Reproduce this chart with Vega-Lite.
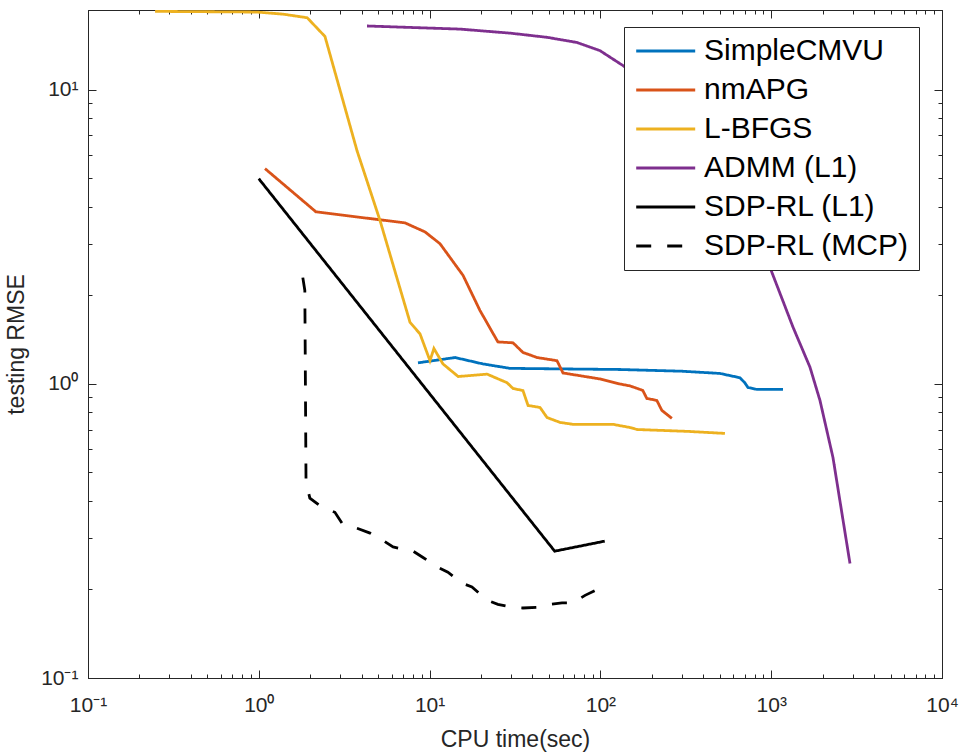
{
  "$schema": "https://vega.github.io/schema/vega-lite/v6.json",
  "width": 854,
  "height": 668,
  "autosize": {"type": "none"},
  "padding": {"left": 88, "top": 10, "right": 18, "bottom": 74},
  "background": "white",
  "config": {
    "view": {"stroke": "#262626", "strokeWidth": 1},
    "font": "Liberation Sans",
    "axis": {"grid": false, "domainColor": "#262626", "tickColor": "#262626", "labelColor": "#262626", "titleColor": "#262626", "labelFont": "Liberation Sans", "titleFont": "Liberation Sans", "titleFontWeight": "normal"}
  },
  "data": {"values": [
    {"s": "SimpleCMVU", "t": 8.55, "r": 1.18},
    {"s": "SimpleCMVU", "t": 14.1, "r": 1.23},
    {"s": "SimpleCMVU", "t": 20.5, "r": 1.17},
    {"s": "SimpleCMVU", "t": 29.6, "r": 1.13},
    {"s": "SimpleCMVU", "t": 60, "r": 1.125},
    {"s": "SimpleCMVU", "t": 130, "r": 1.12},
    {"s": "SimpleCMVU", "t": 300, "r": 1.105},
    {"s": "SimpleCMVU", "t": 501, "r": 1.086},
    {"s": "SimpleCMVU", "t": 656, "r": 1.05},
    {"s": "SimpleCMVU", "t": 700, "r": 1.01},
    {"s": "SimpleCMVU", "t": 731, "r": 0.973},
    {"s": "SimpleCMVU", "t": 826, "r": 0.958},
    {"s": "SimpleCMVU", "t": 1172, "r": 0.958},
    {"s": "nmAPG", "t": 1.087, "r": 5.4},
    {"s": "nmAPG", "t": 2.16, "r": 3.85},
    {"s": "nmAPG", "t": 7.18, "r": 3.53},
    {"s": "nmAPG", "t": 9.4, "r": 3.29},
    {"s": "nmAPG", "t": 11.5, "r": 3.0},
    {"s": "nmAPG", "t": 15.7, "r": 2.34},
    {"s": "nmAPG", "t": 19.7, "r": 1.78},
    {"s": "nmAPG", "t": 25.1, "r": 1.39},
    {"s": "nmAPG", "t": 30.8, "r": 1.38},
    {"s": "nmAPG", "t": 35.2, "r": 1.28},
    {"s": "nmAPG", "t": 42.6, "r": 1.23},
    {"s": "nmAPG", "t": 55.7, "r": 1.2},
    {"s": "nmAPG", "t": 60.4, "r": 1.09},
    {"s": "nmAPG", "t": 99.5, "r": 1.04},
    {"s": "nmAPG", "t": 130, "r": 1.0},
    {"s": "nmAPG", "t": 149, "r": 0.985},
    {"s": "nmAPG", "t": 177, "r": 0.951},
    {"s": "nmAPG", "t": 187, "r": 0.893},
    {"s": "nmAPG", "t": 214, "r": 0.879},
    {"s": "nmAPG", "t": 229, "r": 0.813},
    {"s": "nmAPG", "t": 262, "r": 0.764},
    {"s": "L-BFGS", "t": 0.247, "r": 18.5},
    {"s": "L-BFGS", "t": 0.975, "r": 18.4},
    {"s": "L-BFGS", "t": 1.39, "r": 18.1},
    {"s": "L-BFGS", "t": 1.92, "r": 17.6},
    {"s": "L-BFGS", "t": 2.44, "r": 15.2},
    {"s": "L-BFGS", "t": 3.76, "r": 6.21},
    {"s": "L-BFGS", "t": 5.13, "r": 3.59},
    {"s": "L-BFGS", "t": 7.68, "r": 1.62},
    {"s": "L-BFGS", "t": 8.79, "r": 1.48},
    {"s": "L-BFGS", "t": 10.05, "r": 1.2},
    {"s": "L-BFGS", "t": 10.6, "r": 1.32},
    {"s": "L-BFGS", "t": 11.97, "r": 1.17},
    {"s": "L-BFGS", "t": 14.7, "r": 1.06},
    {"s": "L-BFGS", "t": 21.7, "r": 1.08},
    {"s": "L-BFGS", "t": 28.4, "r": 1.01},
    {"s": "L-BFGS", "t": 30.8, "r": 0.965},
    {"s": "L-BFGS", "t": 35.2, "r": 0.95},
    {"s": "L-BFGS", "t": 37.7, "r": 0.845},
    {"s": "L-BFGS", "t": 44.3, "r": 0.832},
    {"s": "L-BFGS", "t": 48.7, "r": 0.769},
    {"s": "L-BFGS", "t": 58.0, "r": 0.74},
    {"s": "L-BFGS", "t": 69.1, "r": 0.729},
    {"s": "L-BFGS", "t": 118.5, "r": 0.729},
    {"s": "L-BFGS", "t": 149, "r": 0.711},
    {"s": "L-BFGS", "t": 164, "r": 0.7},
    {"s": "L-BFGS", "t": 321, "r": 0.69},
    {"s": "L-BFGS", "t": 536, "r": 0.679},
    {"s": "ADMM (L1)", "t": 4.3, "r": 16.5},
    {"s": "ADMM (L1)", "t": 15.1, "r": 16.1},
    {"s": "ADMM (L1)", "t": 29.6, "r": 15.6},
    {"s": "ADMM (L1)", "t": 48.7, "r": 15.1},
    {"s": "ADMM (L1)", "t": 72.9, "r": 14.5},
    {"s": "ADMM (L1)", "t": 99.5, "r": 13.6},
    {"s": "ADMM (L1)", "t": 135.6, "r": 12.1},
    {"s": "ADMM (L1)", "t": 195, "r": 10.3},
    {"s": "ADMM (L1)", "t": 383, "r": 6.46},
    {"s": "ADMM (L1)", "t": 656, "r": 3.73},
    {"s": "ADMM (L1)", "t": 984, "r": 2.49},
    {"s": "ADMM (L1)", "t": 1342, "r": 1.56},
    {"s": "ADMM (L1)", "t": 1687, "r": 1.14},
    {"s": "ADMM (L1)", "t": 1930, "r": 0.879},
    {"s": "ADMM (L1)", "t": 2300, "r": 0.562},
    {"s": "ADMM (L1)", "t": 2893, "r": 0.245},
    {"s": "SDP-RL (L1)", "t": 1.0, "r": 4.99},
    {"s": "SDP-RL (L1)", "t": 54, "r": 0.27},
    {"s": "SDP-RL (L1)", "t": 106, "r": 0.292},
    {"s": "SDP-RL (MCP)", "t": 1.81, "r": 2.3},
    {"s": "SDP-RL (MCP)", "t": 1.86, "r": 2.08},
    {"s": "SDP-RL (MCP)", "t": 1.89, "r": 0.464},
    {"s": "SDP-RL (MCP)", "t": 1.99, "r": 0.409},
    {"s": "SDP-RL (MCP)", "t": 2.34, "r": 0.381},
    {"s": "SDP-RL (MCP)", "t": 2.79, "r": 0.366},
    {"s": "SDP-RL (MCP)", "t": 3.07, "r": 0.336},
    {"s": "SDP-RL (MCP)", "t": 3.76, "r": 0.323},
    {"s": "SDP-RL (MCP)", "t": 4.48, "r": 0.311},
    {"s": "SDP-RL (MCP)", "t": 5.33, "r": 0.294},
    {"s": "SDP-RL (MCP)", "t": 6.11, "r": 0.279},
    {"s": "SDP-RL (MCP)", "t": 8.0, "r": 0.27},
    {"s": "SDP-RL (MCP)", "t": 9.15, "r": 0.257},
    {"s": "SDP-RL (MCP)", "t": 11.2, "r": 0.238},
    {"s": "SDP-RL (MCP)", "t": 12.8, "r": 0.229},
    {"s": "SDP-RL (MCP)", "t": 15.5, "r": 0.21},
    {"s": "SDP-RL (MCP)", "t": 17.7, "r": 0.204},
    {"s": "SDP-RL (MCP)", "t": 21.7, "r": 0.184},
    {"s": "SDP-RL (MCP)", "t": 25.1, "r": 0.178},
    {"s": "SDP-RL (MCP)", "t": 30.4, "r": 0.174},
    {"s": "SDP-RL (MCP)", "t": 35.2, "r": 0.173},
    {"s": "SDP-RL (MCP)", "t": 42.5, "r": 0.174},
    {"s": "SDP-RL (MCP)", "t": 47.4, "r": 0.177},
    {"s": "SDP-RL (MCP)", "t": 59.6, "r": 0.18},
    {"s": "SDP-RL (MCP)", "t": 69.1, "r": 0.18},
    {"s": "SDP-RL (MCP)", "t": 81.3, "r": 0.191},
    {"s": "SDP-RL (MCP)", "t": 95.5, "r": 0.2}
  ]},
  "resolve": {"axis": {"x": "independent", "y": "independent"}},
  "layer": [
    {
      "mark": {"type": "line", "strokeWidth": 2.8, "clip": true},
      "encoding": {
        "x": {"field": "t", "type": "quantitative",
          "scale": {"type": "log", "domain": [0.1, 10000], "nice": false},
          "axis": {"orient": "bottom", "title": "CPU time(sec)", "titleFontSize": 23, "titlePadding": 9,
            "values": [0.1,0.2,0.3,0.4,0.5,0.6,0.7,0.8,0.9,1,2,3,4,5,6,7,8,9,10,20,30,40,50,60,70,80,90,100,200,300,400,500,600,700,800,900,1000,2000,3000,4000,5000,6000,7000,8000,9000,10000],
            "labelExpr": "datum.value == 0.1 ? '10⁻¹' : datum.value == 1 ? '10⁰' : datum.value == 10 ? '10¹' : datum.value == 100 ? '10²' : datum.value == 1000 ? '10³' : datum.value == 10000 ? '10⁴' : ''",
            "labelFontSize": 21, "labelPadding": 24, "labelOverlap": false, "labelFlush": false, "labelBound": false,
            "tickSize": {"condition": {"test": "abs(log(datum.value)/LN10 - round(log(datum.value)/LN10)) < 1e-6", "value": -8}, "value": -4}
          }
        },
        "y": {"field": "r", "type": "quantitative",
          "scale": {"type": "log", "domain": [0.1, 18.7], "nice": false},
          "axis": {"orient": "left", "title": "testing RMSE", "titleFontSize": 23, "titlePadding": 12,
            "values": [0.1,0.2,0.3,0.4,0.5,0.6,0.7,0.8,0.9,1,2,3,4,5,6,7,8,9,10],
            "labelExpr": "datum.value == 0.1 ? '10⁻¹' : datum.value == 1 ? '10⁰' : datum.value == 10 ? '10¹' : ''",
            "labelFontSize": 21, "labelPadding": 18, "labelOverlap": false, "labelBound": false,
            "tickSize": {"condition": {"test": "abs(log(datum.value)/LN10 - round(log(datum.value)/LN10)) < 1e-6", "value": -8}, "value": -4}
          }
        },
        "color": {"field": "s", "type": "nominal",
          "scale": {"domain": ["SimpleCMVU", "nmAPG", "L-BFGS", "ADMM (L1)", "SDP-RL (L1)", "SDP-RL (MCP)"],
                    "range": ["#0072BD", "#D95319", "#EDB120", "#7E2F8E", "#000000", "#000000"]},
          "legend": {"title": null, "orient": "none", "legendX": 536, "legendY": 17,
            "labelFontSize": 30, "labelFont": "Liberation Sans", "labelColor": "#000000", "labelLimit": 400,
            "symbolType": "M-1,0H4", "symbolSize": 557, "symbolStrokeWidth": 3, "labelOffset": 41,
            "fillColor": "white", "strokeColor": "#262626", "padding": 9, "rowPadding": 9, "cornerRadius": 0}
        },
        "strokeDash": {"field": "s", "type": "nominal",
          "scale": {"domain": ["SimpleCMVU", "nmAPG", "L-BFGS", "ADMM (L1)", "SDP-RL (L1)", "SDP-RL (MCP)"],
                    "range": [[1, 0], [1, 0], [1, 0], [1, 0], [1, 0], [15, 16]]},
          "legend": {"title": null, "orient": "none", "legendX": 536, "legendY": 17,
            "labelFontSize": 30, "labelFont": "Liberation Sans", "labelColor": "#000000", "labelLimit": 400,
            "symbolType": "M-1,0H4", "symbolSize": 557, "symbolStrokeWidth": 3, "labelOffset": 41,
            "fillColor": "white", "strokeColor": "#262626", "padding": 9, "rowPadding": 9, "cornerRadius": 0}
        }
      }
    },
    {
      "mark": {"type": "point", "opacity": 0},
      "encoding": {
        "x": {"field": "t", "type": "quantitative",
          "axis": {"orient": "top", "title": null, "labels": false,
            "values": [0.1,0.2,0.3,0.4,0.5,0.6,0.7,0.8,0.9,1,2,3,4,5,6,7,8,9,10,20,30,40,50,60,70,80,90,100,200,300,400,500,600,700,800,900,1000,2000,3000,4000,5000,6000,7000,8000,9000,10000],
            "tickSize": {"condition": {"test": "abs(log(datum.value)/LN10 - round(log(datum.value)/LN10)) < 1e-6", "value": -8}, "value": -4}
          }
        },
        "y": {"field": "r", "type": "quantitative",
          "axis": {"orient": "right", "title": null, "labels": false,
            "values": [0.1,0.2,0.3,0.4,0.5,0.6,0.7,0.8,0.9,1,2,3,4,5,6,7,8,9,10],
            "tickSize": {"condition": {"test": "abs(log(datum.value)/LN10 - round(log(datum.value)/LN10)) < 1e-6", "value": -8}, "value": -4}
          }
        }
      }
    }
  ]
}
